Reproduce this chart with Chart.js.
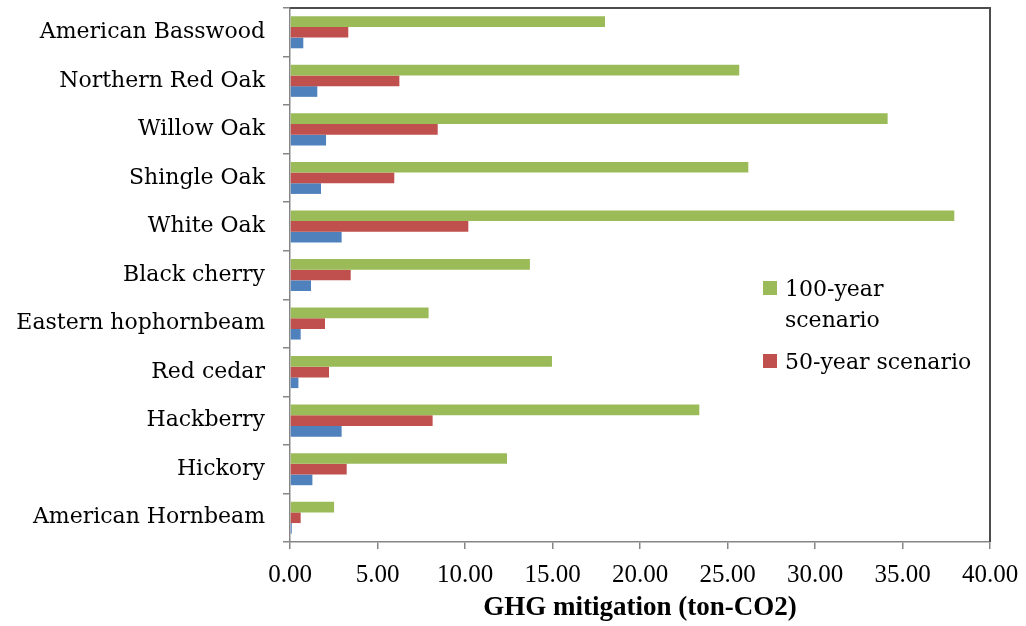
<!DOCTYPE html>
<html>
<head>
<meta charset="utf-8">
<title>GHG mitigation by tree species</title>
<script src="https://cdn.jsdelivr.net/npm/chart.js@4/dist/chart.umd.min.js"></script>
<style>
  html, body { margin: 0; padding: 0; background: #ffffff; }
  #wrap { width: 1026px; height: 626px; }
</style>
</head>
<body>
<div id="wrap"><canvas id="chart" width="1026" height="626"></canvas></div>
<script>
// Tree species, listed top to bottom
const species = [
  'American Basswood', 'Northern Red Oak', 'Willow Oak', 'Shingle Oak',
  'White Oak', 'Black cherry', 'Eastern hophornbeam', 'Red cedar',
  'Hackberry', 'Hickory', 'American Hornbeam'
];

// GHG mitigation (ton-CO2) per species
const scenario100 = [18.00, 25.67, 34.15, 26.19, 37.96, 13.71, 7.92, 14.97, 23.39, 12.40, 2.52];
const scenario50  = [3.33, 6.25, 8.44, 5.96, 10.19, 3.47, 2.00, 2.23, 8.15, 3.24, 0.61];
const scenarioBase = [0.76, 1.56, 2.06, 1.77, 2.95, 1.20, 0.61, 0.48, 2.95, 1.28, 0.10];

// Legend entries (text lines per entry)
const legendEntries = [
  { lines: ['100-year', 'scenario'], color: '#9BBB59' },
  { lines: ['50-year scenario'], color: '#C0504D' }
];

const xTicks = { min: 0, max: 40, step: 5 };
const axisTitle = 'GHG mitigation (ton-CO2)';

const AXIS_GREY = '#868686';

// Dark frame on the top and right sides of the plot area
const frame = {
  id: 'frame',
  afterDatasetsDraw(chart) {
    const { ctx, chartArea: a } = chart;
    ctx.save();
    ctx.strokeStyle = '#4d4d4d';
    ctx.lineWidth = 2;
    ctx.beginPath();
    ctx.moveTo(a.left, a.top);
    ctx.lineTo(a.right, a.top);
    ctx.lineTo(a.right, a.bottom);
    ctx.stroke();
    ctx.restore();
  }
};

// Legend drawn inside the plot area, with wrapped text
const insideLegend = {
  id: 'insideLegend',
  afterDraw(chart) {
    const { ctx, chartArea: a } = chart;
    const boxX = a.right - 227;
    const textX = a.right - 205;
    const lineGap = 31;
    let baseline = a.top + 288;
    ctx.save();
    ctx.font = '22px "DejaVu Serif"';
    ctx.textBaseline = 'alphabetic';
    ctx.textAlign = 'left';
    legendEntries.forEach((entry) => {
      ctx.fillStyle = entry.color;
      ctx.fillRect(boxX, baseline - 15, 14, 14);
      ctx.fillStyle = '#000000';
      entry.lines.forEach((line, j) => {
        ctx.fillText(line, textX, baseline + j * lineGap);
      });
      baseline += entry.lines.length * lineGap + 11;
    });
    ctx.restore();
  }
};

new Chart(document.getElementById('chart'), {
  type: 'bar',
  data: {
    labels: species,
    datasets: [
      { label: '100-year scenario', data: scenario100, backgroundColor: '#9BBB59' },
      { label: '50-year scenario', data: scenario50, backgroundColor: '#C0504D' },
      { label: '', data: scenarioBase, backgroundColor: '#4F81BD' }
    ]
  },
  options: {
    indexAxis: 'y',
    responsive: false,
    animation: false,
    datasets: {
      bar: { categoryPercentage: 0.66, barPercentage: 1.0, borderWidth: 0 }
    },
    layout: { padding: { top: 8, right: 36, left: 0, bottom: 0 } },
    plugins: {
      legend: { display: false },
      tooltip: { enabled: false }
    },
    scales: {
      y: {
        type: 'category',
        afterFit(scale) {
          scale.width = 290;
          scale.paddingTop = 0;
          scale.paddingBottom = 0;
        },
        grid: {
          offset: true,
          drawOnChartArea: false,
          drawTicks: true,
          tickLength: 7,
          color: AXIS_GREY,
          lineWidth: 1.5
        },
        border: { color: AXIS_GREY, width: 1.5 },
        ticks: {
          color: '#000000',
          padding: 18,
          font: { family: '"DejaVu Serif"', size: 22 }
        }
      },
      x: {
        type: 'linear',
        min: xTicks.min,
        max: xTicks.max,
        afterFit(scale) {
          scale.height = 84;
          scale.paddingLeft = 0;
          scale.paddingRight = 0;
        },
        grid: {
          drawOnChartArea: false,
          drawTicks: true,
          tickLength: 7,
          color: AXIS_GREY,
          lineWidth: 1.5
        },
        border: { color: AXIS_GREY, width: 1.5 },
        ticks: {
          stepSize: xTicks.step,
          color: '#000000',
          padding: 11,
          maxRotation: 0,
          font: { family: '"Liberation Serif"', size: 25 },
          callback: (v) => Number(v).toFixed(2)
        },
        title: {
          display: true,
          text: axisTitle,
          color: '#000000',
          padding: { top: 0, bottom: 2 },
          font: { family: '"Liberation Serif"', size: 27, weight: 'bold' }
        }
      }
    }
  },
  plugins: [frame, insideLegend]
});
</script>
</body>
</html>
